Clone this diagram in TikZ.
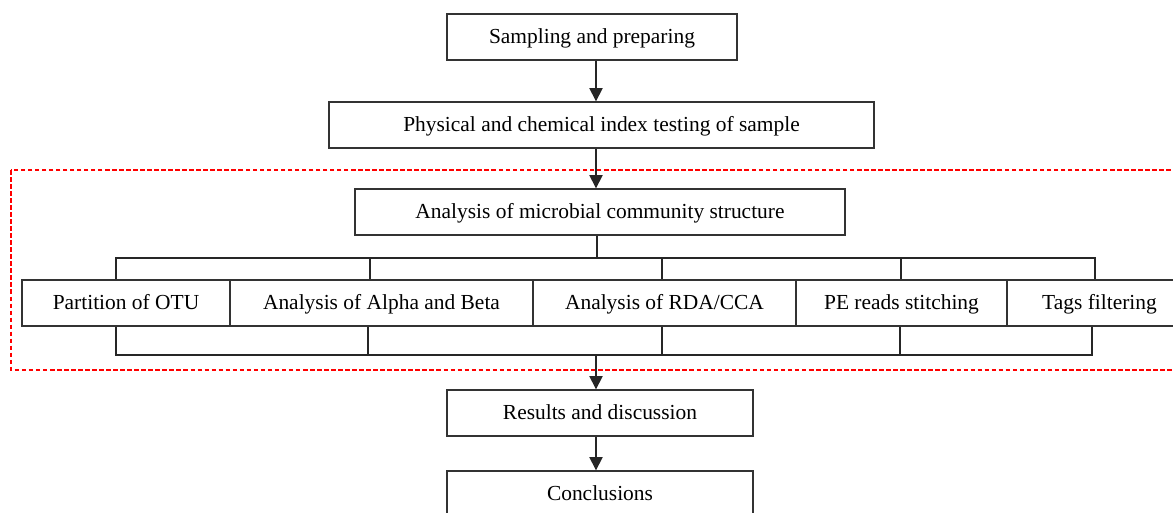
\documentclass[tikz,border=0pt]{standalone}
\usepackage{fontspec}
\setmainfont{Liberation Serif}
\usetikzlibrary{arrows.meta}
\begin{document}
\begin{tikzpicture}[x=0.02cm,y=-0.02cm,
  box/.style={draw=black!80, line width=0.8pt, rectangle, inner sep=0pt, minimum height=0.92cm, text height=9pt, text depth=1.5pt, font=\fontsize{12.2}{14}\selectfont},
  link/.style={draw=black!85, line width=0.8pt},
  arr/.style={link, -{Triangle[length=7.5pt,width=7.5pt]}},
  zone/.style={draw=red, line width=0.6pt, dash pattern=on 2.6pt off 1.4pt}]
\useasboundingbox (0,0) rectangle (1173,512);
% dashed frame
\draw[zone] (11,170) rectangle (1185,370);
% main column
\node[box, minimum width=5.8cm] (b1) at (592,37) {Sampling and preparing};
\node[box, minimum width=10.9cm] (b2) at (601.5,125) {Physical and chemical index testing of sample};
\node[box, minimum width=9.8cm] (b3) at (600,212) {Analysis of microbial community structure};
% row of methods
\node[box, minimum width=4.16cm] (r1) at (126,303) {Partition of OTU};
\node[box, minimum width=6.06cm] (r2) at (381.5,303) {Analysis of Alpha and Beta};
\node[box, minimum width=5.26cm] (r3) at (664.5,303) {Analysis of RDA/CCA};
\node[box, minimum width=4.22cm] (r4) at (901.5,303) {PE reads stitching};
\node[box, minimum width=3.70cm] (r5) at (1099.5,303) {Tags filtering};
% results
\node[box, minimum width=6.12cm] (res) at (600,413) {Results and discussion};
\node[box, minimum width=6.12cm] (con) at (600,494) {Conclusions};
% axis and bus coordinates
\coordinate (axis) at (596,0);
\coordinate (stem) at (597,0);
\coordinate (topbus) at (0,258);
\coordinate (botbus) at (0,355);
\coordinate (t1) at (116,0);
\coordinate (t2) at (370,0);
\coordinate (t3) at (662,0);
\coordinate (t4) at (901,0);
\coordinate (t5) at (1095,0);
\coordinate (u1) at (116,0);
\coordinate (u2) at (368,0);
\coordinate (u3) at (662,0);
\coordinate (u4) at (900,0);
\coordinate (u5) at (1092,0);
% arrows in main column
\draw[arr] (b1.south -| axis) -- (b2.north -| axis);
\draw[arr] (b2.south -| axis) -- (b3.north -| axis);
% top bus
\draw[link] (b3.south -| stem) -- (stem |- topbus);
\draw[link] (t1 |- r1.north) -- (t1 |- topbus) -- (t5 |- topbus) -- (t5 |- r5.north);
\draw[link] (t2 |- topbus) -- (t2 |- r2.north);
\draw[link] (t3 |- topbus) -- (t3 |- r3.north);
\draw[link] (t4 |- topbus) -- (t4 |- r4.north);
% bottom bus
\draw[link] (u1 |- r1.south) -- (u1 |- botbus) -- (u5 |- botbus) -- (u5 |- r5.south);
\draw[link] (u2 |- r2.south) -- (u2 |- botbus);
\draw[link] (u3 |- r3.south) -- (u3 |- botbus);
\draw[link] (u4 |- r4.south) -- (u4 |- botbus);
\draw[arr] (axis |- botbus) -- (res.north -| axis);
\draw[arr] (res.south -| axis) -- (con.north -| axis);
\end{tikzpicture}
\end{document}
